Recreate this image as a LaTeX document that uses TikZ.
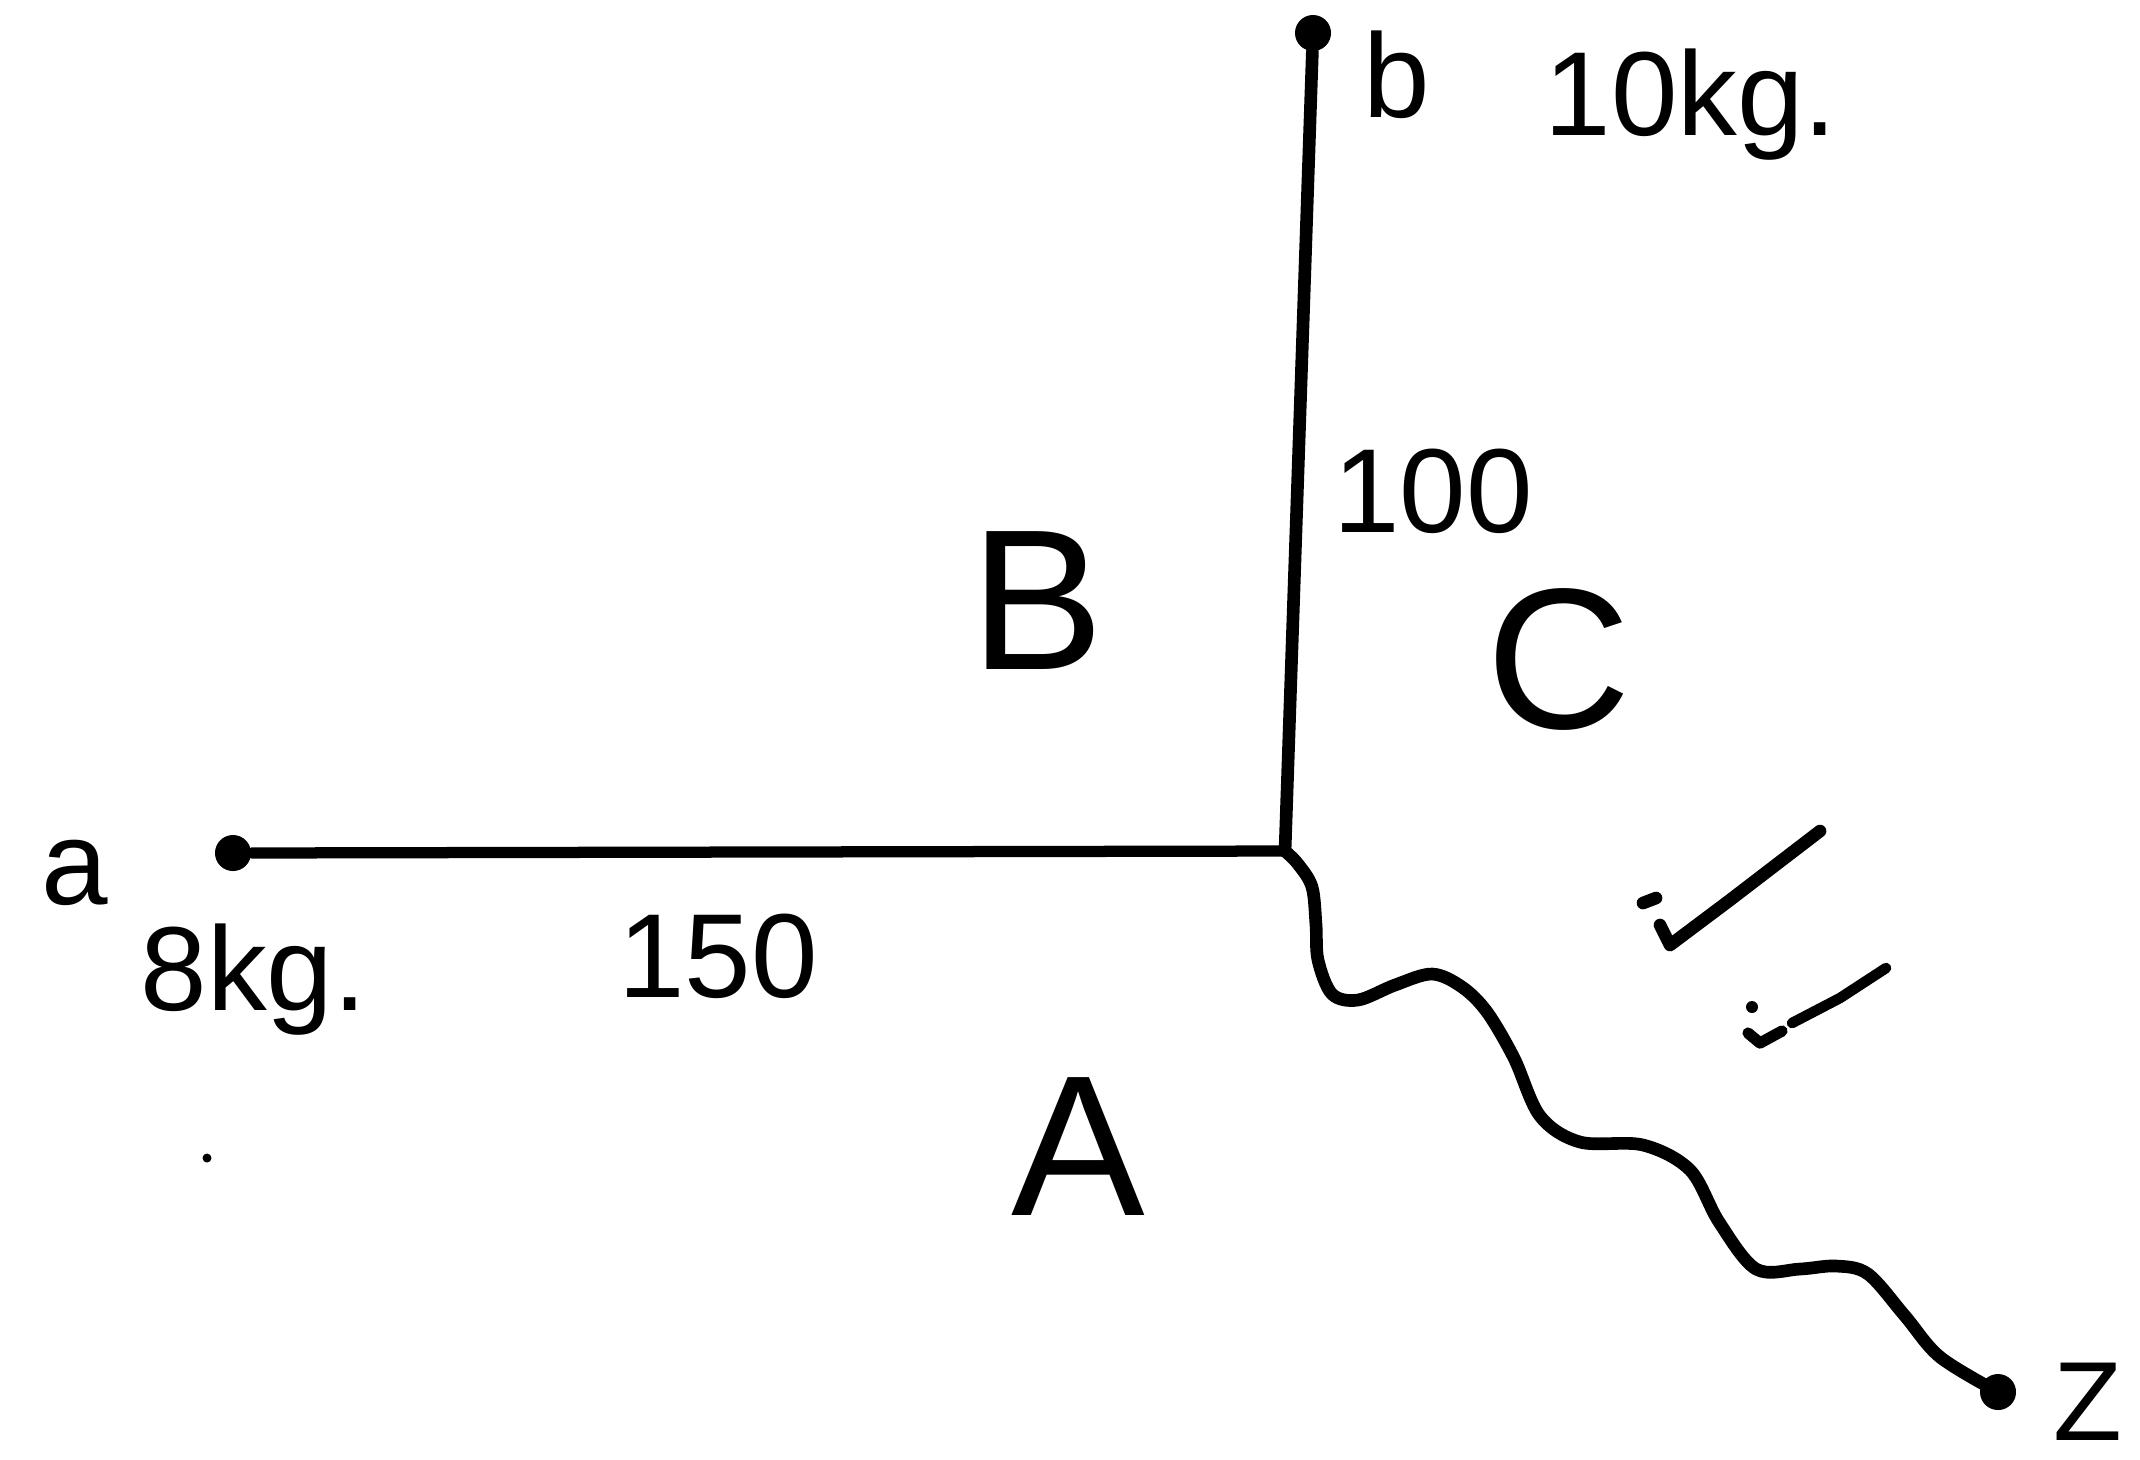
\documentclass[tikz,border=0pt]{standalone}
\usepackage{fontspec}
\setmainfont{Liberation Sans}
\begin{document}
\begin{tikzpicture}[x=0.01cm,y=-0.01cm,
  pt/.style={circle,fill=black,inner sep=0pt,minimum size=0.36cm},
  lbl/.style={inner sep=0pt,font=\fontsize{34}{40}\selectfont},
  big/.style={inner sep=0pt,font=\fontsize{57}{66}\selectfont},
  edge/.style={line width=3.6pt,line cap=round,line join=round},
  tick/.style={line width=3.6pt,line cap=round,line join=round}]
\useasboundingbox (0,0) rectangle (2140,1459);
% points
\node[pt] (a) at (233,853) {};
\node[pt] (b) at (1313,33) {};
\node[pt] (z) at (1998,1392) {};
\coordinate (j) at (1285,851);
% connectors
\draw[edge,line width=3.2pt] (a) -- (j);
\draw[edge] (b) -- (j);
\draw[edge] plot[smooth,tension=0.55] coordinates {(j) (1298,864) (1312,887) (1316,925) (1318,960) (1332,994) (1358,1000) (1395,985) (1432,974) (1462,987) (1487,1012) (1514,1058) (1540,1116) (1580,1142) (1643,1145) (1690,1170) (1719,1222) (1756,1269) (1800,1269) (1836,1266) (1868,1274) (1905,1316) (1940,1357) (z)};
% labels
\node[lbl,anchor=center] (la) at (75,873) {a};
\node[lbl,anchor=base west] (l8) at (140,1010) {8kg.};
\node[lbl,anchor=base] (l150) at (718,997) {150};
\node[lbl,anchor=base] (lb) at (1397,117) {b};
\node[lbl,anchor=base west] (l10) at (1544,135) {10kg.};
\node[lbl,anchor=base] (l100) at (1433,532) {100};
\node[big,anchor=base] (lB) at (1037,669) {B};
\node[big,anchor=base] (lC) at (1559,728) {C};
\node[big,anchor=base] (lA) at (1078,1215) {A};
\node[lbl,anchor=base,font=\fontsize{32}{38}\selectfont] (lZ) at (2088,1440) {Z};
% small stray dot
\fill (207,1158) circle[radius=0.045cm];
% check marks
\draw[tick] (1643,903) -- (1656,898);
\draw[tick] (1660,925) -- (1670,945) -- (1730,900) -- (1820,831);
\fill (1752,1007) circle[radius=0.06cm];
\draw[tick,line width=3.2pt] (1748,1033) -- (1760,1043) -- (1782,1031);
\draw[tick,line width=3pt] (1792,1023) -- (1840,998) -- (1886,968);
\end{tikzpicture}
\end{document}
